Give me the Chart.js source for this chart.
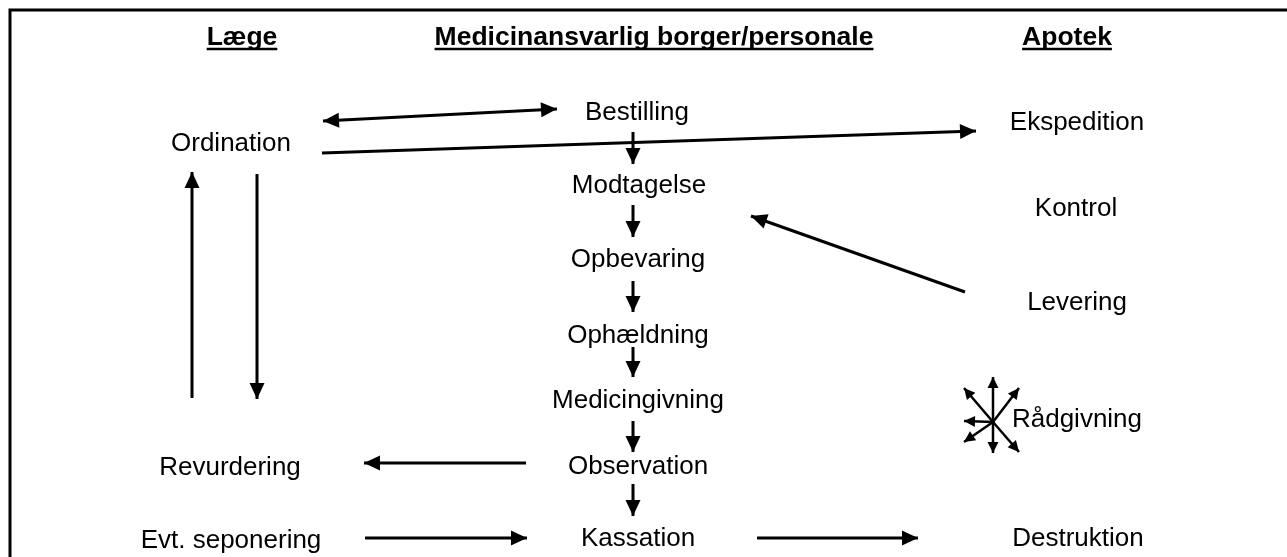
<!DOCTYPE html>
<html><head><meta charset="utf-8">
<script src="https://cdn.jsdelivr.net/npm/chart.js@4"></script>
<style>html,body{margin:0;padding:0;background:#fff;overflow:hidden}canvas{display:block}</style>
</head><body>
<canvas id="c" width="1287" height="557"></canvas>
<script>
// Column headers
const headerLabels = ['Læge', 'Medicinansvarlig borger/personale', 'Apotek'];
const headerX = [242, 654, 1067];
const headerY = [45, 45, 45];

// Process steps (text nodes)
const nodeLabels = ['Ordination', 'Bestilling', 'Ekspedition', 'Modtagelse', 'Kontrol', 'Opbevaring',
  'Levering', 'Ophældning', 'Medicingivning', 'Rådgivning', 'Revurdering', 'Observation',
  'Evt. seponering', 'Kassation', 'Destruktion'];
const nodeX = [231, 637, 1077, 639, 1076, 638, 1077, 638, 638, 1077, 230, 638, 231, 638, 1078];
const nodeY = [151, 120, 130, 193, 216, 267, 310, 343, 408, 427, 475, 474, 548, 546, 546];

// Main arrows: start point, end (tip) point, double-headed flag
const arrowStart = [[557,109],[322,153],[633,132],[633,205],[633,281],[633,347],[633,421],[633,484],
  [965,292],[192,398],[257,174],[526,463],[365,538],[757,538]];
const arrowEnd = [[323,121],[976,131],[633,164],[633,237],[633,312],[633,377],[633,452],[633,516],
  [751,216],[192,172],[257,399],[364,463],[527,538],[918,538]];
const arrowDouble = [true,false,false,false,false,false,false,false,false,false,false,false,false,false];

// Burst of small arrows next to "Rådgivning"
const burstCenter = [993, 422];
const burstEnd = [[993,377],[964,388],[1019,388],[964,421],[964,442],[993,453],[1019,452]];

// Frame (left and top edges)
const frameLeft = 10, frameTop = 10;

const datasets = [];
arrowStart.forEach((s, i) => {
  datasets.push({ data: [{x: s[0], y: s[1]}, {x: arrowEnd[i][0], y: arrowEnd[i][1]}],
    showLine: true, borderColor: '#000', borderWidth: 3, pointRadius: 0, fill: false,
    head: 16, half: 7.5, both: arrowDouble[i] });
});
burstEnd.forEach(e => {
  datasets.push({ data: [{x: burstCenter[0], y: burstCenter[1]}, {x: e[0], y: e[1]}],
    showLine: true, borderColor: '#000', borderWidth: 2.5, pointRadius: 0, fill: false,
    head: 11, half: 5.5, both: false });
});

function drawHead(ctx, x0, y0, x1, y1, L, H) {
  const dx = x1 - x0, dy = y1 - y0, len = Math.hypot(dx, dy);
  const ux = dx / len, uy = dy / len;
  const bx = x1 - ux * L, by = y1 - uy * L;
  ctx.beginPath();
  ctx.moveTo(x1, y1);
  ctx.lineTo(bx - uy * H, by + ux * H);
  ctx.lineTo(bx + uy * H, by - ux * H);
  ctx.closePath();
  ctx.fill();
}

const diagramPlugin = {
  id: 'diagram',
  beforeDraw(chart) {
    const ctx = chart.ctx;
    ctx.save();
    ctx.fillStyle = '#fff';
    ctx.fillRect(0, 0, chart.width, chart.height);
    const xs = chart.scales.x, ys = chart.scales.y;
    ctx.strokeStyle = '#000';
    ctx.lineWidth = 3;
    ctx.beginPath();
    ctx.moveTo(xs.getPixelForValue(frameLeft), ys.getPixelForValue(557));
    ctx.lineTo(xs.getPixelForValue(frameLeft), ys.getPixelForValue(frameTop));
    ctx.lineTo(xs.getPixelForValue(1287), ys.getPixelForValue(frameTop));
    ctx.stroke();
    ctx.restore();
  },
  afterDatasetsDraw(chart) {
    const ctx = chart.ctx, xs = chart.scales.x, ys = chart.scales.y;
    ctx.save();
    ctx.fillStyle = '#000';
    chart.data.datasets.forEach(ds => {
      const a = ds.data[0], b = ds.data[1];
      const x0 = xs.getPixelForValue(a.x), y0 = ys.getPixelForValue(a.y);
      const x1 = xs.getPixelForValue(b.x), y1 = ys.getPixelForValue(b.y);
      drawHead(ctx, x0, y0, x1, y1, ds.head, ds.half);
      if (ds.both) drawHead(ctx, x1, y1, x0, y0, ds.head, ds.half);
    });
    ctx.restore();
  },
  afterDraw(chart) {
    const ctx = chart.ctx, xs = chart.scales.x, ys = chart.scales.y;
    ctx.save();
    ctx.fillStyle = '#000';
    ctx.strokeStyle = '#000';
    ctx.textAlign = 'center';
    ctx.textBaseline = 'alphabetic';
    ctx.font = 'bold 26.5px "Liberation Sans", Arial, sans-serif';
    headerLabels.forEach((t, i) => {
      const x = xs.getPixelForValue(headerX[i]), y = ys.getPixelForValue(headerY[i]);
      ctx.fillText(t, x, y);
      const w = ctx.measureText(t).width;
      ctx.lineWidth = 2.5;
      ctx.beginPath();
      ctx.moveTo(x - w / 2, y + 4);
      ctx.lineTo(x + w / 2, y + 4);
      ctx.stroke();
    });
    ctx.font = '26px "Liberation Sans", Arial, sans-serif';
    nodeLabels.forEach((t, i) => {
      ctx.fillText(t, xs.getPixelForValue(nodeX[i]), ys.getPixelForValue(nodeY[i]));
    });
    ctx.restore();
  }
};

new Chart(document.getElementById('c'), {
  type: 'scatter',
  data: { datasets },
  options: {
    responsive: false,
    animation: false,
    events: [],
    layout: { padding: 0 },
    plugins: { legend: { display: false }, tooltip: { enabled: false } },
    elements: { line: { borderCapStyle: 'butt', tension: 0 } },
    scales: {
      x: { type: 'linear', min: 0, max: 1287, display: false },
      y: { type: 'linear', min: 0, max: 557, reverse: true, display: false }
    }
  },
  plugins: [diagramPlugin]
});
</script>
</body></html>
